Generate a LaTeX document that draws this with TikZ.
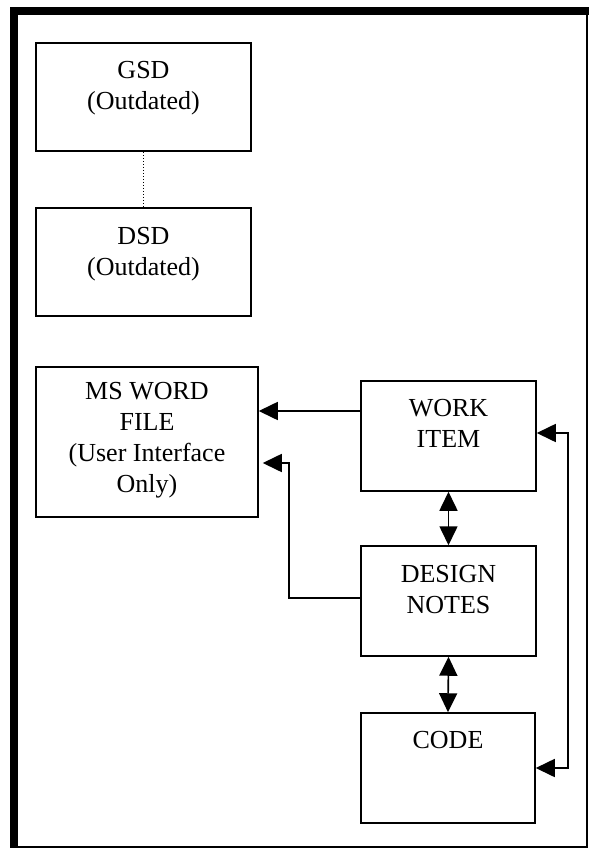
\documentclass[tikz,border=0pt]{standalone}
\usepackage{fontspec}
\setmainfont{Liberation Serif}
\usetikzlibrary{arrows.meta,calc}
\tikzset{
  tri/.tip={Triangle[length=19pt,width=18pt]},
  box/.style={draw,line width=1.5pt,inner sep=0pt},
  txt/.style={align=center,inner sep=0pt,anchor=base,font=\fontsize{26}{31}\selectfont},
  arr/.style={line width=1.6pt,-tri},
  darr/.style={line width=1.6pt,tri-tri},
}
\begin{document}
\begin{tikzpicture}[x=1pt,y=-1pt]
\useasboundingbox (0,0) rectangle (589,848);
% frame
\draw[line width=8pt] (14,848) -- (14,11) -- (589,11);
\draw[line width=2pt] (586.5,11) -- (586.5,846.5) -- (14,846.5);
% boxes
\node[box,minimum width=215pt,minimum height=108pt] (gsd) at (143.5,97) {};
\node[box,minimum width=215pt,minimum height=108pt] (dsd) at (143.5,262) {};
\node[box,minimum width=222pt,minimum height=150pt] (msword) at (147,442) {};
\node[box,minimum width=175pt,minimum height=110pt] (work) at (448.5,436) {};
\node[box,minimum width=175pt,minimum height=110pt] (design) at (448.5,601) {};
\node[box,minimum width=174pt,minimum height=110pt] (code) at (448,768) {};
% texts (anchor = baseline of last line)
\node[txt] (tgsd) at (143.5,110) {GSD\\(Outdated)};
\node[txt] (tdsd) at (143.5,275) {DSD\\(Outdated)};
\node[txt] (tms) at (147,492) {MS WORD\\FILE\\(User Interface\\Only)};
\node[txt] (twork) at (448.5,447) {WORK\\ITEM};
\node[txt] (tdesign) at (448.5,613) {DESIGN\\NOTES};
\node[txt] (tcode) at (448,748) {CODE};
% connectors
\draw[line width=1pt,dotted] (gsd.south) -- (dsd.north);
\draw[arr] ([yshift=25pt]work.west) -- ([yshift=25pt]work.west -| msword.east);
\draw[arr] ([yshift=3pt]design.west) -- ++(-71,0) |- ([xshift=4pt,yshift=-21pt]msword.east);
\draw[darr] (work.south) -- (design.north);
\draw[darr] (design.south) -- (code.north);
\draw[darr] ([yshift=3pt]work.east) -- ++(31,0) |- (code.east);
\end{tikzpicture}
\end{document}
